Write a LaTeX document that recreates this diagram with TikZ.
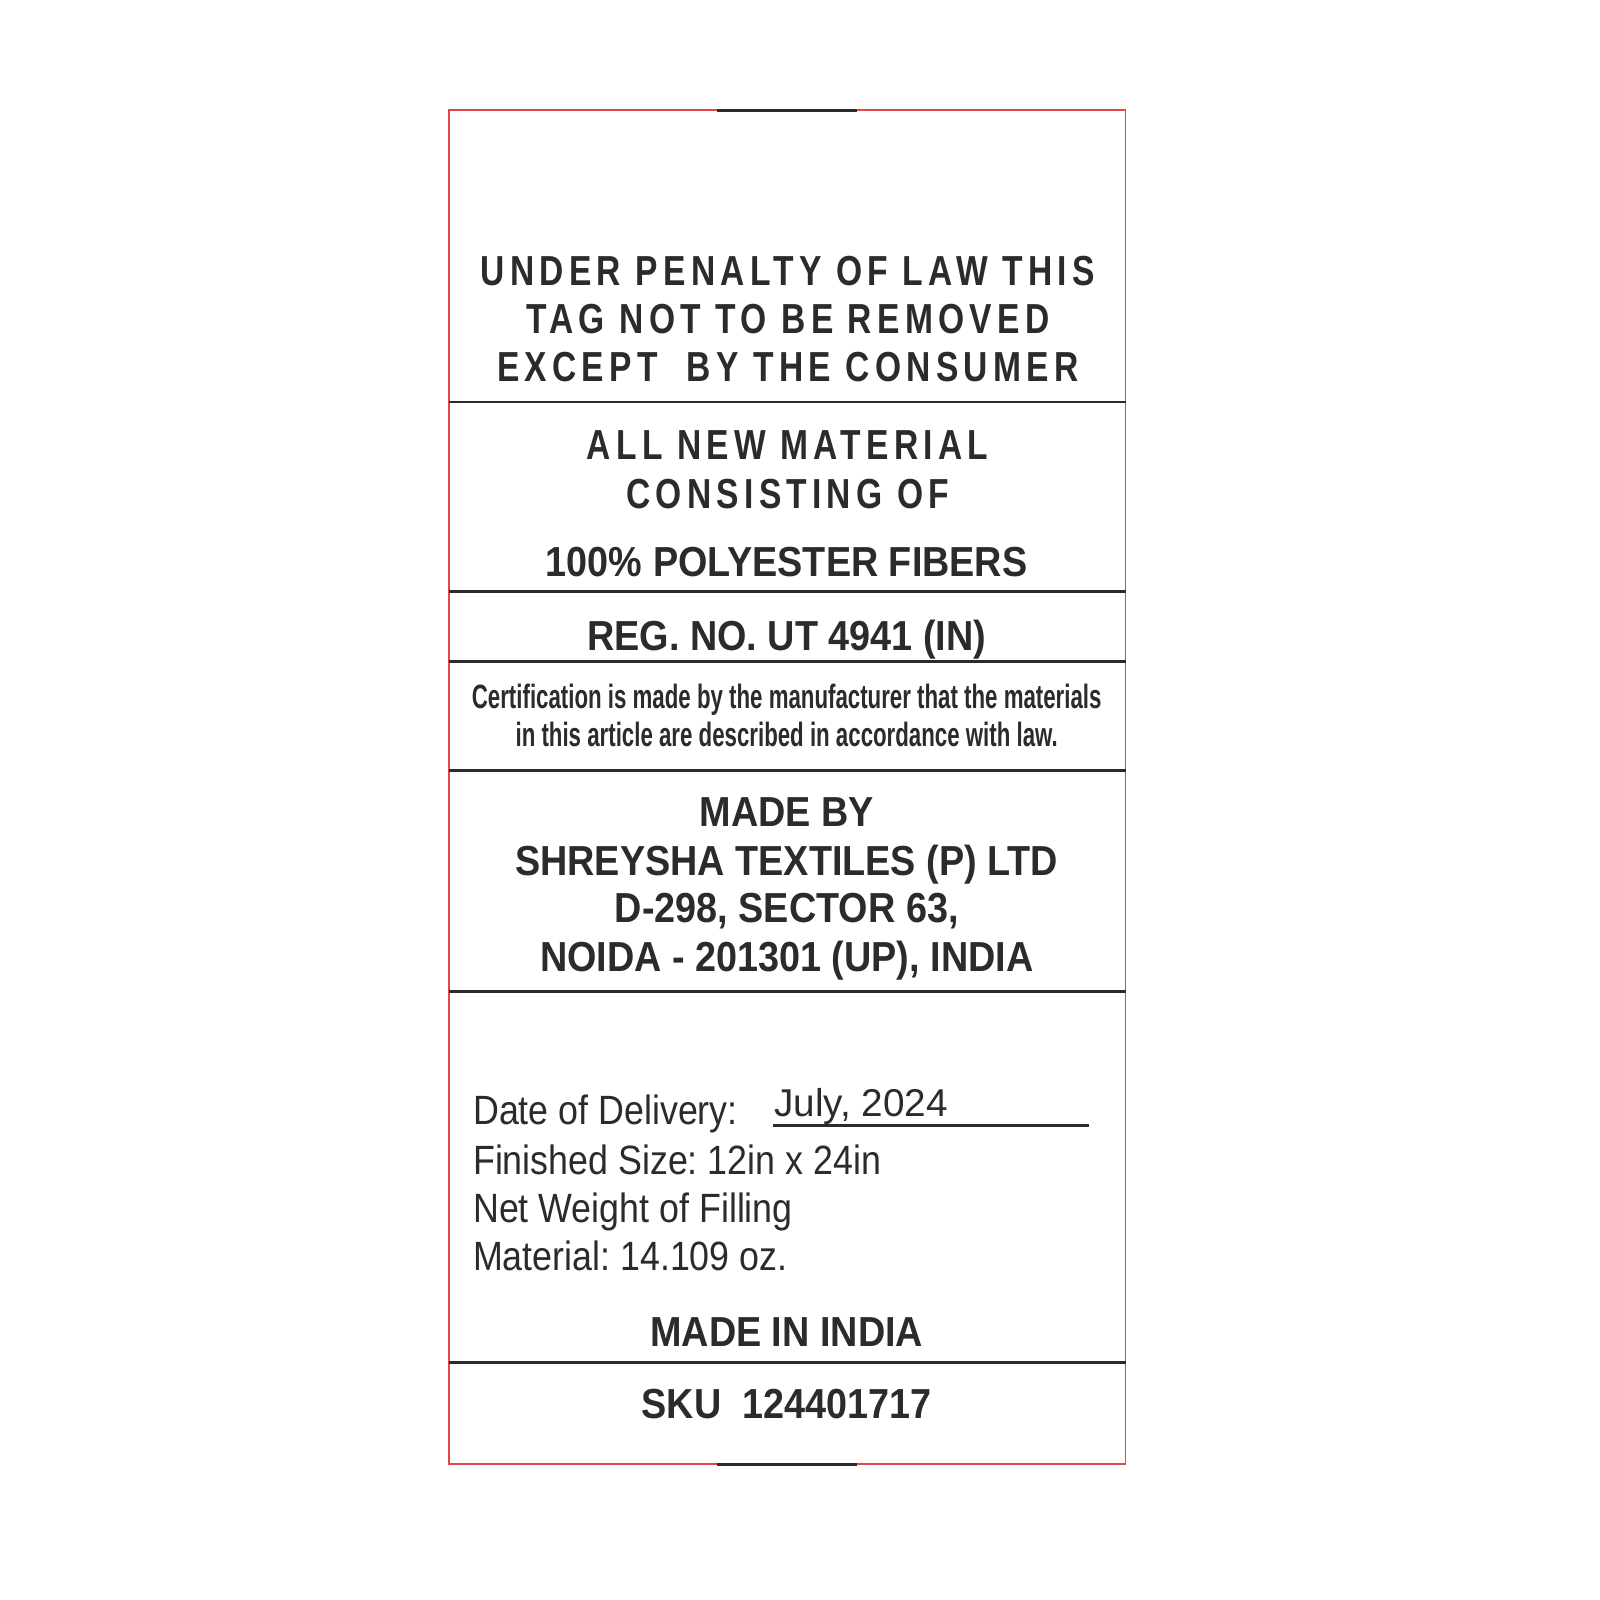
\documentclass[tikz,border=0pt]{standalone}
\usepackage{fontspec}
\setmainfont{Liberation Sans}
\newfontfamily\spacedfont[FakeStretch=0.8,LetterSpace=12.5]{Liberation Sans}
\newfontfamily\narrowfont[FakeStretch=0.9]{Liberation Sans}
\newfontfamily\certfont[FakeStretch=0.66]{Liberation Sans}
\newfontfamily\infofont[FakeStretch=0.875]{Liberation Sans}
\usetikzlibrary{positioning}
\definecolor{tagink}{HTML}{2B2B2B}
\definecolor{tagred}{HTML}{E04848}
\frenchspacing

\begin{document}
\begin{tikzpicture}[x=0.01cm,y=-0.01cm,
    txt/.style={anchor=base,inner sep=0pt,text=tagink},
    spaced/.style={txt,font=\spacedfont\bfseries\fontsize{11.7pt}{14pt}\selectfont},
    heads/.style={txt,font=\narrowfont\bfseries\fontsize{11.7pt}{14pt}\selectfont},
    cert/.style={txt,font=\certfont\bfseries\fontsize{9.4pt}{11pt}\selectfont},
    info/.style={txt,anchor=base west,font=\infofont\fontsize{11.4pt}{14pt}\selectfont},
    rule/.style={draw=tagink,line width=0.8pt}]
 \useasboundingbox (0,0) rectangle (1568,1568);
 % frame
 \draw[tagred,line width=0.5pt] (440,108) coordinate (fnw) rectangle (1103,1435) coordinate (fse);
 \draw[rule] (703,108) -- (840,108);
 \draw[rule] (703,1435) -- (840,1435);
 \foreach \yy [count=\i] in {394,580,648,755,972,1335}
  {\draw[rule] (440,\yy) coordinate (rl\i) -- (1103,\yy) coordinate (rr\i);}

 % warning
 \node[spaced] (law1) at (772,280) {UNDER PENALTY OF LAW THIS};
 \node[spaced] (law2) at (772,327) {TAG NOT TO BE REMOVED};
 \node[spaced] (law3) at (772,374) {EXCEPT\ \ BY THE CONSUMER};

 % content
 \node[spaced] (mat1) at (772,450) {ALL NEW MATERIAL};
 \node[spaced] (mat2) at (772,498) {CONSISTING OF};
 \node[heads] (mat3) at (771,565) {100\% POLYESTER FIBERS};

 \node[heads] (reg) at (771,637) {REG. NO. UT 4941 (IN)};

 \node[cert] (cert1) at (771,694) {Certification is made by the manufacturer that the materials};
 \node[cert] (cert2) at (771,732) {in this article are described in accordance with law.};

 % maker
 \node[heads] (mk1) at (771,810) {MADE BY};
 \node[heads] (mk2) at (771,858) {SHREYSHA TEXTILES (P) LTD};
 \node[heads] (mk3) at (771,904) {D-298, SECTOR 63,};
 \node[heads] (mk4) at (771,952) {NOIDA - 201301 (UP), INDIA};

 % details
 \node[info] (date) at (463,1102) {Date of Delivery:};
 \node[txt,anchor=base west,font=\fontsize{10.8pt}{13pt}\selectfont] (july) at (758,1094) {July, 2024};
 \coordinate (dl) at (758,1103);
 \coordinate (dr) at (1067,1103);
 \draw[rule] (dl) -- (dr);
 \node[info] (size) at (463,1151) {Finished Size: 12in x 24in};
 \node[info] (net) at (463,1198) {Net Weight of Filling};
 \node[info] (wt) at (463,1245) {Material: 14.109 oz.};

 \node[heads] (origin) at (771,1320) {MADE IN INDIA};
 \node[heads] (sku) at (771,1390) {SKU\ \ 124401717};
\end{tikzpicture}
\end{document}
